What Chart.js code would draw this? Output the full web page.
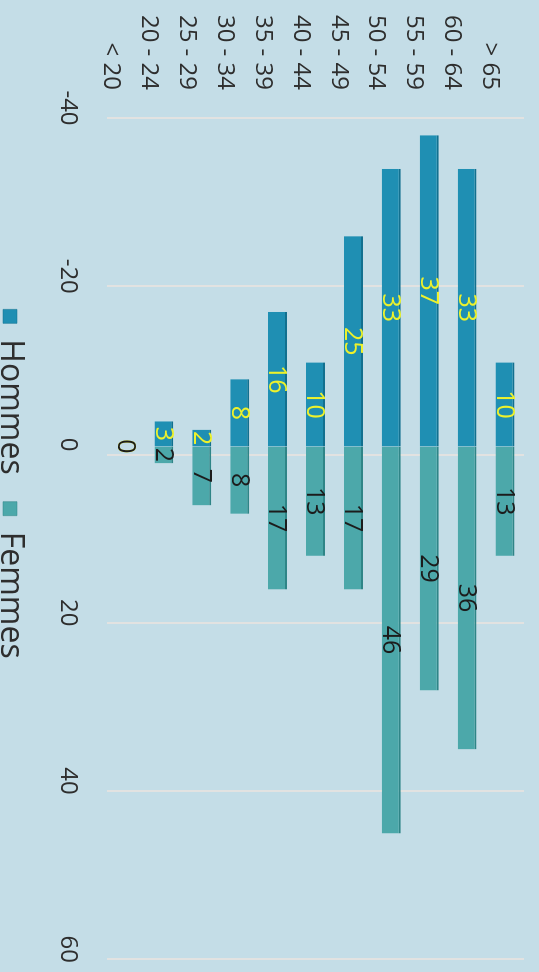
<!DOCTYPE html>
<html>
<head>
<meta charset="utf-8">
<script src="https://cdn.jsdelivr.net/npm/chart.js@4/dist/chart.umd.min.js"></script>
<style>
    html, body { margin: 0; padding: 0; width: 539px; height: 972px; overflow: hidden; background: #c4dde7; }
    /* the reference is the chart turned a quarter turn clockwise */
    #wrap { position: absolute; left: 0; top: 0; width: 990px; height: 555px;
            transform-origin: 0 0; transform: translate(539px, 0) rotate(90deg); }
</style>
</head>
<body>
<div id="wrap"><canvas id="pyramid" width="990" height="555"></canvas></div>
<script>
// Population pyramid: men drawn to the left (negative), women to the right.
const AGE_GROUPS = ["> 65", "60 - 64", "55 - 59", "50 - 54", "45 - 49", "40 - 44",
                    "35 - 39", "30 - 34", "25 - 29", "20 - 24", "< 20"];
const HOMMES = [-10, -33, -37, -33, -25, -10, -16, -8, -2, -3, 0];
const FEMMES = [13, 36, 29, 46, 17, 13, 17, 8, 7, 2, 0];
const VALUE_TICKS = [-40, -20, 0, 20, 40, 60];

const COLORS = {
    hommes: "#1f8fb3",
    hommesEdge: "#12708f",
    femmes: "#4ca8aa",
    femmesEdge: "#2f8587",
    text: "#2e2e2e",
    grid: "rgba(238, 228, 222, 0.7)"
};
const FONT = "'Open Sans', 'Noto Sans', sans-serif";

// Value labels in the middle of each bar (men shown as positive numbers).
const barLabels = {
    id: "barLabels",
    afterDatasetsDraw(chart) {
        const ctx = chart.ctx;
        const x = chart.scales.x;
        ctx.save();
        ctx.font = `25px ${FONT}`;
        ctx.textAlign = "center";
        ctx.textBaseline = "middle";
        chart.data.datasets.forEach((ds, di) => {
            const meta = chart.getDatasetMeta(di);
            meta.data.forEach((bar, i) => {
                const v = ds.data[i];
                ctx.fillStyle = ds.__labelColor;
                ctx.fillText(String(Math.abs(v)), x.getPixelForValue(v / 2), bar.y + 1);
            });
        });
        ctx.restore();
    }
};

new Chart(document.getElementById("pyramid"), {
    type: "bar",
    data: {
        labels: AGE_GROUPS,
        datasets: [
            {
                label: "Hommes",
                data: HOMMES,
                backgroundColor: COLORS.hommes,
                borderColor: COLORS.hommesEdge,
                borderWidth: { top: 2, bottom: 0, left: 0, right: 0 },
                borderSkipped: false,
                barPercentage: 0.5,
                categoryPercentage: 1,
                __labelColor: "#eef22c"
            },
            {
                label: "Femmes",
                data: FEMMES,
                backgroundColor: COLORS.femmes,
                borderColor: COLORS.femmesEdge,
                borderWidth: { top: 2, bottom: 0, left: 0, right: 0 },
                borderSkipped: false,
                barPercentage: 0.5,
                categoryPercentage: 1,
                __labelColor: "#1c1c1c"
            }
        ]
    },
    options: {
        responsive: false,
        animation: false,
        indexAxis: "y",
        layout: { padding: { top: 15, right: 30, left: 8, bottom: 0 } },
        plugins: {
            tooltip: { enabled: false },
            legend: {
                position: "bottom",
                labels: {
                    color: COLORS.text,
                    font: { family: FONT, size: 32 },
                    boxWidth: 14,
                    boxHeight: 14,
                    padding: 27
                }
            }
        },
        scales: {
            x: {
                type: "linear",
                stacked: true,
                min: -40,
                max: 60,
                grid: { display: false, drawTicks: false },
                border: { display: false },
                afterFit: (scale) => { scale.height = 54; },
                ticks: {
                    stepSize: 20,
                    color: COLORS.text,
                    font: { family: FONT, size: 24 },
                    padding: 25,
                    labelOffset: -2
                }
            },
            // gridlines sit on the back wall, a little behind the bars
            xg: {
                type: "linear",
                position: "bottom",
                min: -40.95,
                max: 59.05,
                afterBuildTicks: (scale) => { scale.ticks = VALUE_TICKS.map(v => ({ value: v })); },
                afterFit: (scale) => { scale.height = 0; },
                grid: { color: COLORS.grid, lineWidth: 2, drawTicks: false },
                border: { display: false },
                ticks: { display: false, padding: 0 }
            },
            y: {
                type: "category",
                stacked: true,
                grid: { display: false, drawTicks: false },
                border: { display: false },
                afterFit: (scale) => {
                    scale.width = 102;
                    scale.paddingTop = 0;
                    scale.paddingBottom = 0;
                },
                ticks: {
                    color: COLORS.text,
                    font: { family: FONT, size: 24 },
                    padding: 20,
                    labelOffset: 15
                }
            }
        }
    },
    plugins: [barLabels]
});
</script>
</body>
</html>
